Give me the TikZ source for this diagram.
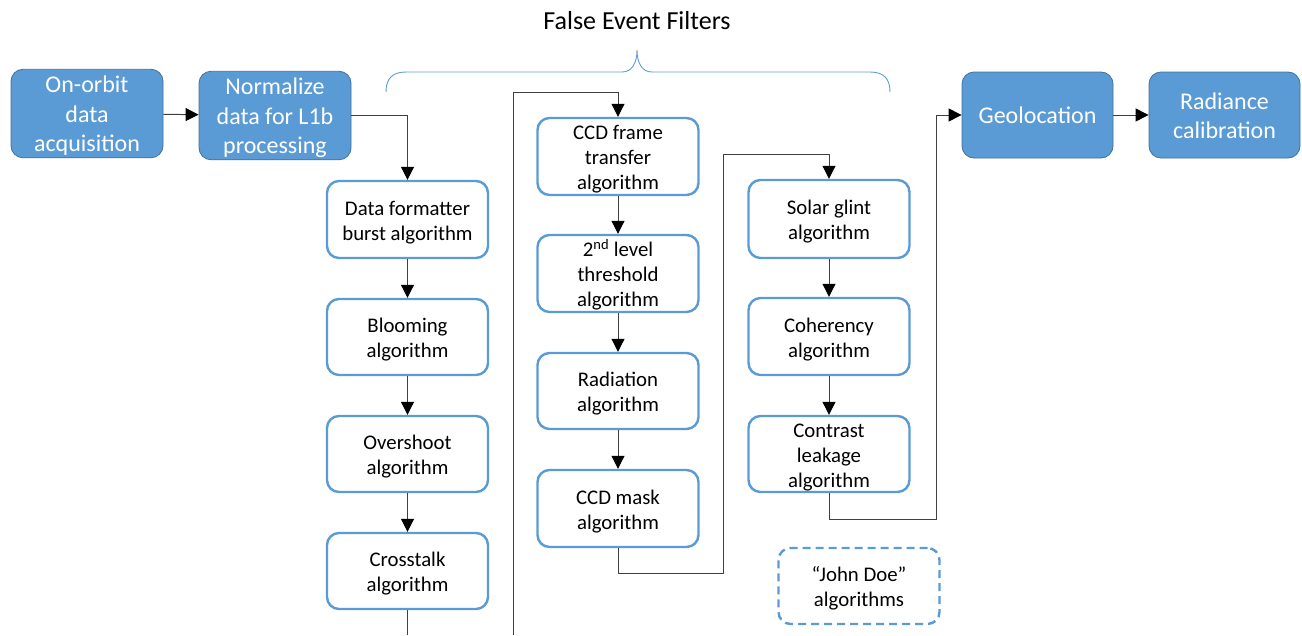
\documentclass[tikz,border=0pt]{standalone}
\usepackage{fontspec}
\setmainfont{Carlito}
\usetikzlibrary{arrows.meta}
\definecolor{accent}{HTML}{5B9BD5}
\definecolor{accentdark}{HTML}{41719C}
% centred lines of text, set a little low in their box
\newcommand{\boxlines}[1]{\raisebox{-3pt}[\height][\depth]{\begin{tabular}{@{}c@{}}#1\end{tabular}}}
\tikzset{
  stagebox/.style={draw=accentdark, line width=0.8pt, fill=accent, rounded corners=12pt,
    text=white, font=\fontsize{24}{29.5}\selectfont, inner sep=0pt},
  algbox/.style={draw=accent, line width=2.4pt, fill=white, rounded corners=12pt,
    text=black, font=\fontsize{20.8}{25}\selectfont, inner sep=0pt,
    minimum width=161pt},
  spare/.style={algbox, dash pattern=on 8pt off 5pt},
  link/.style={draw=black!75, line width=1pt},
  arr/.style={link, -{Triangle[length=13pt,width=13pt,color=black]}},
  bracestyle/.style={draw=accent, line width=0.9pt}
}
\begin{document}
\begin{tikzpicture}[x=1pt,y=-1pt]
\useasboundingbox (0,0) rectangle (1302,635);

% title and brace over the filter stages
\node[font=\fontsize{26}{30}\selectfont] (title) at (637,21) {False Event Filters};
\draw[bracestyle] (386,92) .. controls (386,79) and (392,72) .. (406,72) -- (622,72)
  .. controls (632,72) and (637,63) .. (637,50)
  .. controls (637,63) and (642,72) .. (652,72) -- (870,72)
  .. controls (884,72) and (890,79) .. (890,92);

% main processing stages
\node[stagebox, minimum width=152pt, minimum height=87pt] (acq) at (87,113.5) {\boxlines{On-orbit\\data\\acquisition}};
\node[stagebox, minimum width=152pt, minimum height=87pt] (norm) at (275,115.5) {\boxlines{Normalize\\data for L1b\\processing}};
\node[stagebox, minimum width=151pt, minimum height=86pt] (geo) at (1037.5,115) {\boxlines{Geolocation}};
\node[stagebox, minimum width=151pt, minimum height=86pt] (rad) at (1224.5,115) {\boxlines{Radiance\\calibration}};

% first column of filters
\node[algbox, minimum height=77pt] (df) at (407.5,219.5) {\boxlines{Data formatter\\burst algorithm}};
\node[algbox, minimum height=76pt] (bloom) at (407.5,337) {\boxlines{Blooming\\algorithm}};
\node[algbox, minimum height=76pt] (over) at (407.5,454) {\boxlines{Overshoot\\algorithm}};
\node[algbox, minimum height=76pt] (cross) at (407.5,571) {\boxlines{Crosstalk\\algorithm}};

% second column of filters
\node[algbox, minimum height=77pt] (ccd) at (618,156.5) {\boxlines{CCD frame\\transfer\\algorithm}};
\node[algbox, minimum height=77pt] (thr) at (618,273.5) {\boxlines{2\textsuperscript{nd} level\\threshold\\algorithm}};
\node[algbox, minimum height=76pt] (radn) at (618,391) {\boxlines{Radiation\\algorithm}};
\node[algbox, minimum height=77pt] (mask) at (618,508.5) {\boxlines{CCD mask\\algorithm}};

% third column of filters
\node[algbox, minimum height=78pt] (glint) at (829,219) {\boxlines{Solar glint\\algorithm}};
\node[algbox, minimum height=77pt] (coh) at (829,336.5) {\boxlines{Coherency\\algorithm}};
\node[algbox, minimum height=76pt] (con) at (829,454) {\boxlines{Contrast\\leakage\\algorithm}};

% placeholder for further filters
\node[spare, minimum height=76pt] (jd) at (859,586) {\boxlines{\textquotedblleft John Doe\textquotedblright\\algorithms}};

% routing points
\coordinate (c1bot) at (407.5,635);
\coordinate (c2bot) at (513,635);
\coordinate (c2top) at (513,92);
\coordinate (k1) at (723,573);
\coordinate (k2) at (723,154);
\coordinate (k3) at (936,519);
\coordinate (k4) at (936,115);

% connectors
\draw[arr] (acq) -- (norm);
\draw[arr] (norm.east) -| (df.north);
\draw[arr] (df) -- (bloom);
\draw[arr] (bloom) -- (over);
\draw[arr] (over) -- (cross);
\draw[link] (cross.south) -- (c1bot);
\draw[arr] (c2bot) -- (c2top) -| (ccd.north);
\draw[arr] (ccd) -- (thr);
\draw[arr] (thr) -- (radn);
\draw[arr] (radn) -- (mask);
\draw[arr] (mask.south) |- (k1) -- (k2) -| (glint.north);
\draw[arr] (glint) -- (coh);
\draw[arr] (coh) -- (con);
\draw[arr] (con.south) |- (k3) -- (k4) -- (geo.west);
\draw[arr] (geo) -- (rad);
\end{tikzpicture}
\end{document}
